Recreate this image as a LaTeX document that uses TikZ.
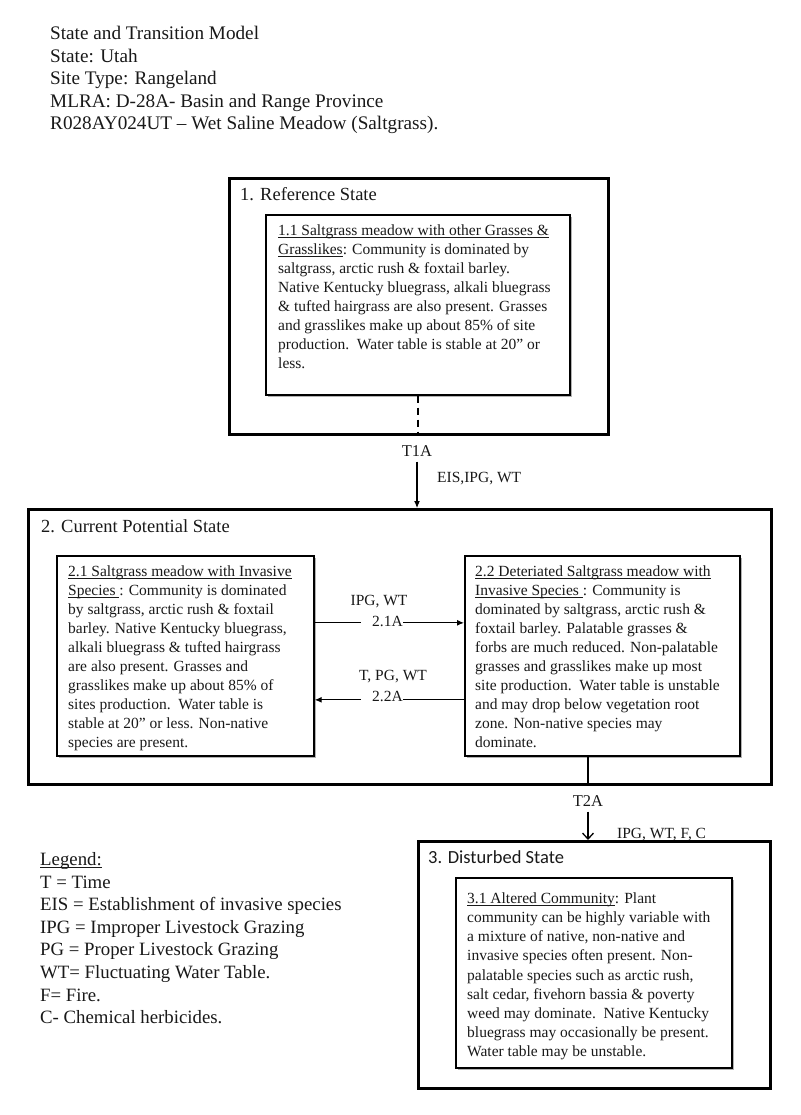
\documentclass[tikz,border=0pt]{standalone}
\usepackage{graphicx}
\usepackage{fontspec}
\setmainfont{Liberation Serif}
\newfontfamily\calibrifont{Carlito}
\usetikzlibrary{arrows.meta,shadows,calc}
\newlength\myulwd
\newcommand\myul[1]{\settowidth{\myulwd}{#1}\rlap{\rule[-2pt]{\myulwd}{0.7pt}}#1}
\begin{document}
\begin{tikzpicture}[x=1pt,y=-1pt,
  outerbox/.style={draw=black, line width=2.8pt, rectangle, inner sep=0pt, anchor=north west},
  innerbox/.style={draw=black, line width=1.7pt, fill=white, rectangle, inner sep=0pt, anchor=north west,
     drop shadow={shadow xshift=1.8pt, shadow yshift=-1.8pt, fill=black!50, opacity=0.6}},
  bodytext/.style={font={\fontsize{15.5}{19}\selectfont}, text=black!90, align=left, anchor=north west, inner sep=0pt},
  headtext/.style={font={\fontsize{19.2}{22.5}\selectfont}, text=black!90, align=left, anchor=north west, inner sep=0pt},
  titletext/.style={font={\fontsize{18.5}{22}\selectfont}, text=black!90, anchor=base west, inner sep=0pt},
  labtext/.style={font={\fontsize{15.5}{18}\selectfont}, text=black!90, inner sep=0pt},
  tlab/.style={font={\fontsize{16.5}{19}\selectfont}, text=black!90, inner sep=0pt},
  arr/.style={line width=1.1pt, -{Latex[length=7pt,width=6pt]}},
]
\fill[white] (0,0) rectangle (800,1115);
\useasboundingbox (0,0) rectangle (800,1115);

% header
\node[headtext] (hdr) at (50,26) {State and Transition Model\\ State: Utah\\ Site Type: Rangeland\\ MLRA: D-28A- Basin and Range Province\\ R028AY024UT – Wet Saline Meadow (Saltgrass).};

% state 1
\node[outerbox, minimum width=379pt, minimum height=256pt] (b1) at (228,177) {};
\node[titletext] (t1) at (240,201) {1. Reference State};
\node[innerbox, minimum width=304pt, minimum height=180pt] (b11) at (265,214) {};
\node[bodytext] (x11) at (278,224.4) {\myul{1.1 Saltgrass meadow with other Grasses \&}\\ \myul{Grasslikes}: Community is dominated by\\ saltgrass, arctic rush \& foxtail barley.\\ Native Kentucky bluegrass, alkali bluegrass\\ \& tufted hairgrass are also present. Grasses\\ and grasslikes make up about 85\% of site\\ production.\ \ Water table is stable at 20” or\\ less.};
\draw[line width=2.6pt, dash pattern=on 7pt off 5pt] (b11.south) -- (b11.south |- b1.south);

% T1A
\node[tlab] (t1a) at (417,451) {T1A};
\node[labtext, anchor=base west] (eis) at (437,482) {EIS,IPG, WT};

% state 2
\node[outerbox, minimum width=743pt, minimum height=275pt] (b2) at (27,508) {};
\draw[arr, shorten <=5pt] (t1a.south) -- (t1a.south |- b2.north);
\node[titletext] (t2) at (41,532) {2. Current Potential State};
\node[innerbox, minimum width=257pt, minimum height=200pt] (b21) at (56,555) {};
\node[innerbox, minimum width=275pt, minimum height=200pt] (b22) at (464,555) {};
\node[bodytext] (x21) at (68,565.4) {\myul{2.1 Saltgrass meadow with Invasive}\\ \myul{Species\ }: Community is dominated\\ by saltgrass, arctic rush \& foxtail\\ barley. Native Kentucky bluegrass,\\ alkali bluegrass \& tufted hairgrass\\ are also present. Grasses and\\ grasslikes make up about 85\% of\\ sites production.\ \ Water table is\\ stable at 20” or less. Non-native\\ species are present.};
\node[bodytext] (x22) at (475,565.4) {\myul{2.2 Deteriated Saltgrass meadow with}\\ \myul{Invasive Species\ }: Community is\\ dominated by saltgrass, arctic rush \&\\ foxtail barley. Palatable grasses \&\\ forbs are much reduced. Non-palatable\\ grasses and grasslikes make up most\\ site production.\ \ Water table is unstable\\ and may drop below vegetation root\\ zone. Non-native species may\\ dominate.};

\draw[arr] ([yshift=33pt]b21.east) -- ([yshift=33pt]b21.east -| b22.west);
\draw[arr] ([yshift=-44pt]b22.west) -- ([yshift=-44pt]b22.west -| b21.east);
\node[labtext, anchor=base] (ipg1) at (379,605) {IPG, WT};
\node[labtext, anchor=base west, fill=white] (a21) at (361,626) {\hspace{11pt}2.1A};
\node[labtext, anchor=base] (tpg) at (393,680) {T, PG, WT};
\node[labtext, anchor=base west, fill=white] (a22) at (361,701) {\hspace{11pt}2.2A};

% T2A
\node[tlab] (t2a) at (588,801) {T2A};
\node[labtext, anchor=base west] (ipg3) at (617,838) {IPG, WT, F, C};

% state 3
\node[outerbox, minimum width=352pt, minimum height=247pt] (b3) at (417,840) {};
\draw[line width=1.4pt] (t2a |- b22.south) -- (t2a |- b2.south);
\draw[line width=1.3pt, shorten <=5pt, -{Straight Barb[length=6pt,width=11pt]}] (t2a.south) -- (t2a.south |- b3.north);
\node[titletext, font={\calibrifont\fontsize{18.5}{22}\selectfont}] (t3) at (428,863) {3. Disturbed State};
\node[innerbox, minimum width=276pt, minimum height=190pt] (b31) at (455,877) {};
\node[bodytext, font={\fontsize{15.5}{19.2}\selectfont}] (x31) at (467,892.4) {\myul{3.1 Altered Community}: Plant\\ community can be highly variable with\\ a mixture of native, non-native and\\ invasive species often present. Non-\\ palatable species such as arctic rush,\\ salt cedar, fivehorn bassia \& poverty\\ weed may dominate.\ \ Native Kentucky\\ bluegrass may occasionally be present.\\ Water table may be unstable.};

% legend
\node[headtext, font={\fontsize{18.8}{22.6}\selectfont}] (leg) at (40,852.2) {\myul{Legend:}\\ T = Time\\ EIS = Establishment of invasive species\\ IPG = Improper Livestock Grazing\\ PG = Proper Livestock Grazing\\ WT= Fluctuating Water Table.\\ F= Fire.\\ C- Chemical herbicides.};
\end{tikzpicture}
\end{document}
